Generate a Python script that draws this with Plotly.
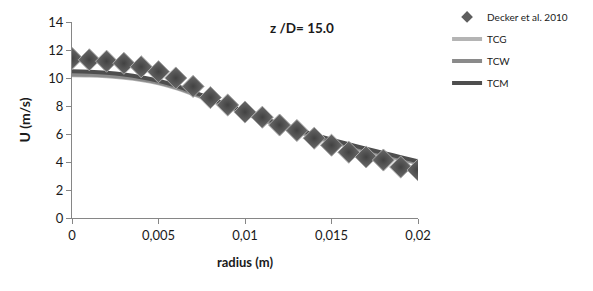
import plotly.graph_objects as go

radius = [0.000, 0.001, 0.002, 0.003, 0.004, 0.005, 0.006, 0.007, 0.008, 0.009, 0.010,
          0.011, 0.012, 0.013, 0.014, 0.015, 0.016, 0.017, 0.018, 0.019, 0.020]

decker = [11.4, 11.3, 11.2, 11.05, 10.8, 10.45, 10.0, 9.4, 8.6, 8.07, 7.57,
          7.2, 6.64, 6.25, 5.7, 5.2, 4.7, 4.36, 4.14, 3.64, 3.43]

tcg = [10.2, 10.18, 10.12, 10.02, 9.86, 9.62, 9.28, 8.85, 8.4, 7.93, 7.45,
       7.0, 6.58, 6.18, 5.8, 5.45, 5.12, 4.8, 4.5, 4.2, 3.92]
tcw = [10.25, 10.23, 10.17, 10.07, 9.91, 9.67, 9.33, 8.9, 8.45, 7.98, 7.5,
       7.05, 6.63, 6.23, 5.85, 5.5, 5.17, 4.85, 4.55, 4.25, 3.97]
tcm = [10.48, 10.45, 10.38, 10.25, 10.06, 9.8, 9.45, 9.0, 8.55, 8.07, 7.6,
       7.15, 6.73, 6.33, 5.95, 5.6, 5.27, 4.95, 4.65, 4.35, 4.05]

font = "Lato, 'Liberation Sans', sans-serif"

fig = go.Figure()
fig.add_trace(go.Scatter(x=radius, y=tcg, name="TCG", mode="lines", legendrank=2,
                         legendgroup="g2",
                         line=dict(color="#b4b4b4", width=4, shape="spline")))
fig.add_trace(go.Scatter(x=radius, y=tcw, name="TCW", mode="lines", legendrank=3,
                         legendgroup="g3",
                         line=dict(color="#8a8a8a", width=4, shape="spline")))
fig.add_trace(go.Scatter(x=radius, y=tcm, name="TCM", mode="lines", legendrank=4,
                         legendgroup="g4",
                         line=dict(color="#4e4e4e", width=4, shape="spline")))
fig.add_trace(go.Scatter(x=radius, y=decker, name="Decker et al. 2010", mode="markers",
                         showlegend=False, legendgroup="g1",
                         marker=dict(symbol="diamond", size=17, color="#6a6a6a",
                                     gradient=dict(type="radial", color="#424242"),
                                     line=dict(color="#a8a8a8", width=1))))
# legend entry with a smaller diamond, like the original
fig.add_trace(go.Scatter(x=[None], y=[None], name="Decker et al. 2010", mode="markers",
                         legendrank=1, legendgroup="g1",
                         marker=dict(symbol="diamond", size=9, color="#5e5e5e")))

# the page body adds an 8px offset, so margins are shifted accordingly
fig.update_layout(
    width=593, height=291,
    margin=dict(l=64, r=183, t=14, b=81, autoexpand=False),
    paper_bgcolor="white", plot_bgcolor="white",
    separators=", ",
    font=dict(family=font, size=13, color="#1a1a1a"),
    showlegend=True,
    legend=dict(x=1.084, y=1.10, xanchor="left", yanchor="top",
                font=dict(size=10, color="#1a1a1a"), traceorder="grouped",
                tracegroupgap=3, bgcolor="rgba(0,0,0,0)"),
    annotations=[dict(text="<b>z /D= 15.0</b>", x=0.664, y=1.02, xref="paper", yref="paper",
                      showarrow=False, font=dict(size=13.5, color="#1a1a1a"))],
)
fig.update_xaxes(range=[0, 0.02], dtick=0.005, tick0=0, showgrid=False, zeroline=False,
                 showline=True, linecolor="#868686", linewidth=1,
                 ticks="outside", ticklen=5, tickcolor="#868686",
                 title=dict(text="<b>radius (m)</b>", font=dict(size=13), standoff=16))
fig.update_yaxes(range=[0, 14], dtick=2, showgrid=False, zeroline=False,
                 showline=True, linecolor="#868686", linewidth=1,
                 ticks="outside", ticklen=5, tickcolor="#868686",
                 title=dict(text="<b>U (m/s)</b>", font=dict(size=14), standoff=14))

fig.write_html("out.html")
